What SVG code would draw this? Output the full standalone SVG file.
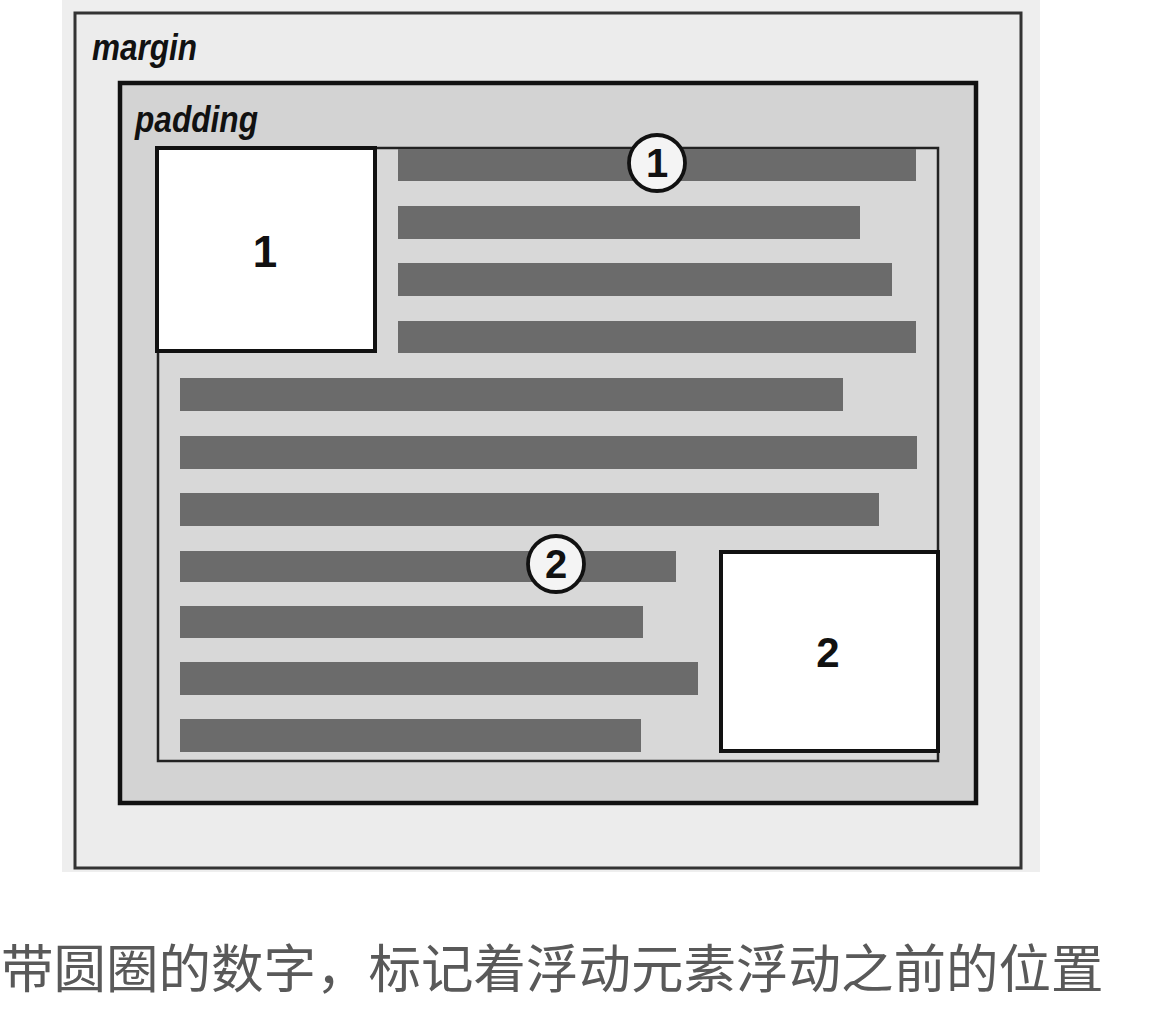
<svg xmlns="http://www.w3.org/2000/svg" width="1164" height="1014" viewBox="0 0 1164 1014">
  <style>
    .bar { fill: #6b6b6b; }
    .lbl { font-family: "Liberation Sans", Arial, sans-serif; font-weight: bold; font-style: italic; font-size: 37px; fill: #111; }
    .num { font-family: "Liberation Sans", Arial, sans-serif; font-weight: bold; fill: #111; text-anchor: middle; }
    .mark { fill: #f4f4f4; stroke: #111; stroke-width: 3.8; }
    .float { fill: #ffffff; stroke: #111; stroke-width: 4; }
    .cap { font-family: "Noto Sans CJK SC", "Noto Sans", sans-serif; font-size: 52.5px; fill: #595959; }
  </style>
  <rect x="0" y="0" width="1164" height="1014" fill="#ffffff"/>
  <g id="scan-bg">
    <rect x="62" y="0" width="978" height="872" fill="#eeeeee"/>
  </g>
  <g id="margin-box">
    <rect x="75" y="13" width="946" height="855" fill="#ececec" stroke="#333" stroke-width="3"/>
    <text class="lbl" x="92" y="60" textLength="105" lengthAdjust="spacingAndGlyphs">margin</text>
  </g>
  <g id="padding-box">
    <rect x="120" y="83" width="856" height="720" fill="#d3d3d3" stroke="#111" stroke-width="4.5"/>
    <text class="lbl" x="135" y="132" textLength="123" lengthAdjust="spacingAndGlyphs">padding</text>
  </g>
  <g id="content-box">
    <rect x="158" y="148" width="780" height="613" fill="#d8d8d8" stroke="#222" stroke-width="2.5"/>
  </g>
  <g id="text-lines">
    <rect class="bar" x="398" y="149" width="518" height="32"/>
    <rect class="bar" x="398" y="206" width="462" height="33"/>
    <rect class="bar" x="398" y="263" width="494" height="33"/>
    <rect class="bar" x="398" y="321" width="518" height="32"/>
    <rect class="bar" x="180" y="378" width="663" height="33"/>
    <rect class="bar" x="180" y="436" width="737" height="33"/>
    <rect class="bar" x="180" y="493" width="699" height="33"/>
    <rect class="bar" x="180" y="551" width="496" height="31"/>
    <rect class="bar" x="180" y="606" width="463" height="32"/>
    <rect class="bar" x="180" y="662" width="518" height="33"/>
    <rect class="bar" x="180" y="719" width="461" height="33"/>
  </g>
  <g id="float1">
    <rect class="float" x="157" y="148" width="218" height="203"/>
    <text class="num" x="265" y="267" font-size="44">1</text>
  </g>
  <g id="float2">
    <rect class="float" x="721" y="552" width="217" height="199"/>
    <text class="num" x="828" y="667" font-size="42">2</text>
  </g>
  <g id="marker1">
    <circle class="mark" cx="657" cy="163" r="28"/>
    <text class="num" x="657" y="177" font-size="40">1</text>
  </g>
  <g id="marker2">
    <circle class="mark" cx="556" cy="564" r="28"/>
    <text class="num" x="556" y="578" font-size="40">2</text>
  </g>
  <g id="caption">
    <text class="cap" x="1" y="988">带圆圈的数字，标记着浮动元素浮动之前的位置</text>
  </g>
</svg>
